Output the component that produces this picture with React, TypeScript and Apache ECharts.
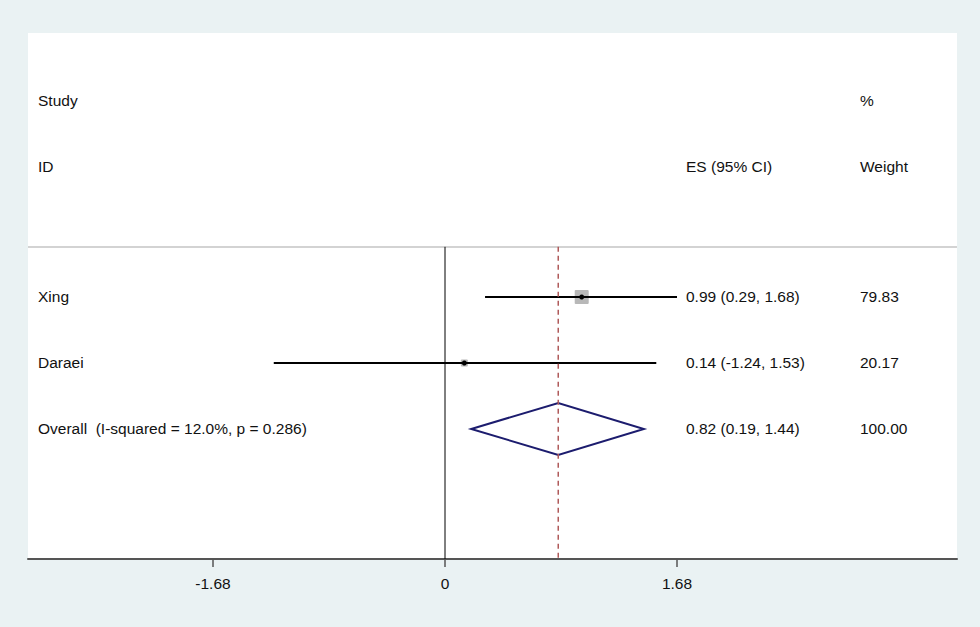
import React, { useEffect, useRef } from "react";
import * as echarts from "echarts";

// ---- data ----
const studies = ["Xing", "Daraei"];
const esValues = [0.99, 0.14];
const ciLow = [0.29, -1.24];
const ciHigh = [1.68, 1.53];
const weights = [79.83, 20.17];
const studyRows = [4, 5];

const overallLabel = "Overall  (I-squared = 12.0%, p = 0.286)";
const overallES = 0.82;
const overallLow = 0.19;
const overallHigh = 1.44;
const overallWeight = 100.0;
const overallRow = 6;

const tickValues = [-1.68, 0, 1.68];

const FONT = "'Liberation Sans', Arial, sans-serif";
const TXT = "#111";

export default function App() {
  const ref = useRef<HTMLDivElement>(null);
  useEffect(() => {
    if (!ref.current) return;
    const chart = echarts.init(ref.current, null, { renderer: "svg" });
    const colName = 38;
    const colES = 686;
    const colW = 860;
    const fontSize = 15.5;

    const textEl = (x: number, y: number, t: string) => ({
      type: "text",
      x,
      y,
      style: { text: t, fill: TXT, font: `${fontSize}px ${FONT}`, textVerticalAlign: "middle", verticalAlign: "middle" },
    });

    const fmtCI = (e: number, l: number, h: number) =>
      `${e.toFixed(2)} (${l.toFixed(2)}, ${h.toFixed(2)})`;

    const studyData = studies.map((_, i) => [ciLow[i], ciHigh[i], esValues[i], weights[i], studyRows[i]]);

    const option: any = {
      animation: false,
      backgroundColor: "#eaf2f3",
      grid: {
        left: 28,
        right: 23,
        top: 33,
        bottom: 68,
        show: true,
        backgroundColor: "#ffffff",
        borderWidth: 0,
      },
      xAxis: {
        type: "value",
        min: -3.0196,
        max: 3.7075,
        splitLine: { show: false },
        axisLine: { show: true, onZero: false, lineStyle: { color: "#555", width: 2 } },
        axisTick: { show: true, length: 8, customValues: tickValues, lineStyle: { color: "#555", width: 1.5 } },
        axisLabel: {
          customValues: tickValues,
          margin: 16,
          fontSize: fontSize,
          fontFamily: FONT,
          color: TXT,
          formatter: (v: number) => (v === 0 ? "0" : v.toFixed(2)),
        },
      },
      yAxis: { type: "value", min: 0, max: 7.97, inverse: true, show: false },
      graphic: [
        { type: "line", shape: { x1: 28, y1: 247, x2: 957, y2: 247 }, style: { stroke: "#c4c4c4", lineWidth: 1.5 } },
        textEl(colName, 100, "Study"),
        textEl(colName, 166, "ID"),
        textEl(colW, 100, "%"),
        textEl(colES, 166, "ES (95% CI)"),
        textEl(colW, 166, "Weight"),
      ],
      series: [
        {
          type: "line",
          data: [[0, 3.24], [0, 7.97]],
          symbol: "none",
          lineStyle: { color: "#000", width: 1 },
          silent: true,
        },
        {
          type: "line",
          data: [[overallES, 3.24], [overallES, 7.97]],
          symbol: "none",
          lineStyle: { color: "#b05a5a", width: 1.5, type: [5, 4] },
          silent: true,
        },
        {
          type: "custom",
          data: studyData,
          clip: false,
          renderItem: (params: any, api: any) => {
            const lo = api.value(0), hi = api.value(1), es = api.value(2), w = api.value(3), row = api.value(4);
            const pLo = api.coord([lo, row]);
            const pHi = api.coord([hi, row]);
            const pEs = api.coord([es, row]);
            const s = 1.567 * Math.sqrt(w);
            return {
              type: "group",
              children: [
                { type: "rect", shape: { x: pEs[0] - s / 2, y: pEs[1] - s / 2, width: s, height: s, r: 1 }, style: { fill: "#b8b8b8" } },
                { type: "line", shape: { x1: pLo[0], y1: pLo[1], x2: pHi[0], y2: pHi[1] }, style: { stroke: "#000", lineWidth: 2 } },
                { type: "circle", shape: { cx: pEs[0], cy: pEs[1], r: 2.5 }, style: { fill: "#000" } },
                textEl(colName, pEs[1], studies[params.dataIndex]),
                textEl(colES, pEs[1], fmtCI(es, lo, hi)),
                textEl(colW, pEs[1], w.toFixed(2)),
              ],
            };
          },
        },
        {
          type: "custom",
          data: [[overallLow, overallHigh, overallES, overallWeight, overallRow]],
          clip: false,
          renderItem: (_params: any, api: any) => {
            const lo = api.value(0), hi = api.value(1), es = api.value(2), w = api.value(3), row = api.value(4);
            const pLo = api.coord([lo, row]);
            const pHi = api.coord([hi, row]);
            const pEs = api.coord([es, row]);
            const h = 26;
            return {
              type: "group",
              children: [
                {
                  type: "polygon",
                  shape: { points: [[pLo[0], pLo[1]], [pEs[0], pEs[1] - h], [pHi[0], pHi[1]], [pEs[0], pEs[1] + h]] },
                  style: { fill: "none", stroke: "#1c1c6e", lineWidth: 2 },
                },
                textEl(colName, pEs[1], overallLabel),
                textEl(colES, pEs[1], fmtCI(es, lo, hi)),
                textEl(colW, pEs[1], w.toFixed(2)),
              ],
            };
          },
        },
      ],
    };
    chart.setOption(option);
    return () => chart.dispose();
  }, []);
  return <div ref={ref} style={{ position: "fixed", left: 0, top: 0, width: 980, height: 627 }} />;
}
